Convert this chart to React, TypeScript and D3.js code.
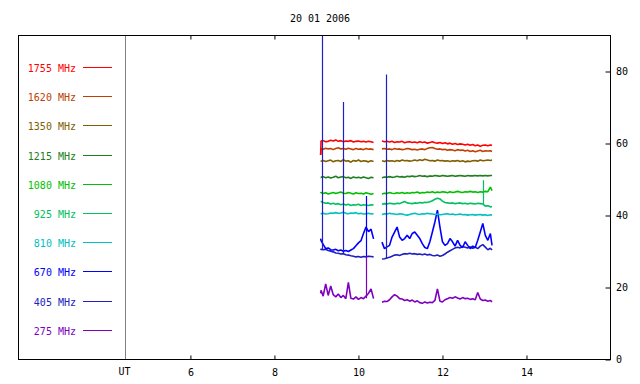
import React, { useEffect, useRef } from "react";
import * as d3 from "d3";

const title = "20 01 2006";
const freqLabels = ["1755 MHz", "1620 MHz", "1350 MHz", "1215 MHz", "1080 MHz", "925 MHz", "810 MHz", "670 MHz", "405 MHz", "275 MHz"];
const freqColors = ["#ff0000", "#c04000", "#806000", "#208020", "#00c000", "#00c060", "#00c0c0", "#0000ff", "#2020c0", "#8000c0"];
const hourTicks = [6, 8, 10, 12, 14];
const fluxTicks = [0, 20, 40, 60, 80];

// UT hours of the samples (gap between 10.36 and 10.56)
const hours = [
  9.10, 9.11, 9.16, 9.22, 9.28, 9.34, 9.40, 9.46, 9.52, 9.58, 9.64, 9.70, 9.76, 9.82, 9.88, 9.94, 10.00, 10.06, 10.12, 10.18, 10.24, 10.30, 10.36,
  10.56, 10.62, 10.68, 10.74, 10.80, 10.86, 10.92, 10.98, 11.04, 11.10, 11.16, 11.22, 11.28, 11.34, 11.40, 11.46, 11.52, 11.58, 11.64, 11.70,
  11.76, 11.82, 11.88, 11.94, 12.00, 12.06, 12.12, 12.18, 12.24, 12.30, 12.36, 12.42, 12.48, 12.54, 12.60, 12.66, 12.72, 12.78, 12.84, 12.90,
  12.96, 13.02, 13.08, 13.14, 13.18,
];

const f1755 = [
  56.8, 60.7, 60.8, 60.5, 60.6, 60.9, 60.7, 61.0, 60.6, 60.8, 60.5, 60.7, 60.6, 60.8, 60.4, 60.6, 60.7, 60.5, 60.6, 60.4, 60.6, 60.5, 60.3,
  60.7, 60.5, 60.6, 60.4, 60.6, 60.3, 60.5, 60.4, 60.6, 60.2, 60.4, 60.5, 60.3, 60.4, 60.2, 60.5, 60.3, 60.4, 60.1, 60.3,
  60.5, 60.2, 60.1, 60.3, 60.0, 60.2, 59.9, 60.1, 59.8, 60.0, 59.7, 59.9, 59.8, 59.6, 59.8, 59.5, 59.7, 59.4, 59.6, 59.2,
  59.5, 59.6, 59.4, 59.6, 59.5,
];
const f1620 = [
  56.8, 58.6, 58.4, 58.7, 58.5, 58.6, 58.3, 58.6, 58.8, 58.5, 58.6, 58.4, 58.7, 58.5, 58.3, 58.6, 58.4, 58.5, 58.3, 58.6, 58.4, 58.5, 58.3,
  58.5, 58.6, 58.4, 58.5, 58.3, 58.6, 58.4, 58.5, 58.3, 58.4, 58.6, 58.5, 58.3, 58.4, 58.2, 58.4, 58.5, 58.3, 58.6, 58.8,
  58.9, 58.6, 58.4, 58.5, 58.3, 58.4, 58.1, 58.3, 58.2, 58.0, 58.3, 58.1, 58.2, 57.9, 58.1, 57.8, 58.0, 57.7, 57.9, 58.1,
  57.8, 58.0, 57.9, 58.0, 57.8,
];
const f1350 = [
  55.1, 55.1, 55.3, 55.0, 55.2, 55.4, 54.9, 55.2, 55.3, 55.0, 55.5, 55.1, 55.2, 54.8, 55.3, 55.1, 55.4, 55.0, 55.2, 55.1, 54.9, 55.2, 55.0,
  55.2, 55.0, 55.3, 55.1, 55.2, 55.0, 55.3, 55.1, 55.4, 55.2, 55.3, 55.1, 55.2, 55.4, 55.2, 55.5, 55.3, 55.6, 55.4, 55.2,
  55.3, 55.1, 55.4, 55.2, 55.3, 55.1, 55.2, 55.0, 55.2, 55.1, 55.3, 55.0, 55.2, 54.9, 55.1, 55.0, 55.2, 55.3, 55.1, 55.4,
  55.2, 55.3, 55.4, 55.3, 55.4,
];
const f1215 = [
  50.6, 50.6, 50.8, 50.5, 50.7, 50.4, 50.6, 50.9, 50.5, 50.7, 50.8, 50.5, 50.6, 50.3, 50.7, 50.5, 50.6, 50.4, 50.7, 50.5, 50.3, 50.6, 50.5,
  50.5, 50.7, 50.6, 50.8, 50.6, 50.7, 50.9, 50.7, 50.8, 50.6, 50.9, 50.8, 51.0, 50.8, 50.9, 51.1, 50.9, 51.0, 50.8, 51.0,
  50.9, 51.1, 51.0, 50.9, 51.1, 51.0, 50.9, 51.0, 51.1, 50.9, 51.0, 51.1, 51.0, 50.9, 51.1, 51.0, 51.0, 51.1, 51.0, 51.1,
  51.0, 51.1, 51.0, 51.1, 51.1,
];
const f1080 = [
  46.2, 46.4, 46.1, 46.3, 46.0, 46.2, 46.4, 46.1, 46.3, 46.5, 46.2, 46.1, 46.4, 46.2, 46.0, 46.3, 46.1, 46.2, 46.0, 46.3, 46.1, 45.9, 46.1,
  46.0, 46.2, 46.1, 46.4, 46.2, 46.1, 46.3, 46.2, 46.4, 46.1, 46.3, 46.2, 46.4, 46.3, 46.5, 46.2, 46.4, 46.3, 46.5, 46.4,
  46.6, 46.3, 46.5, 46.4, 46.6, 46.5, 46.3, 46.6, 46.4, 46.5, 46.7, 46.5, 46.4, 46.6, 46.5, 46.7, 46.5, 46.6, 46.4, 46.6,
  46.5, 46.7, 46.6, 47.9, 46.9,
];
const f925 = [
  43.9, 43.9, 43.6, 43.4, 43.5, 43.2, 43.4, 43.1, 43.3, 43.0, 43.2, 42.9, 43.1, 42.8, 43.0, 42.9, 43.1, 42.8, 43.0, 42.9, 42.8, 43.0, 42.9,
  43.1, 43.3, 43.2, 43.4, 43.3, 43.2, 43.4, 43.3, 43.6, 43.9, 43.5, 43.4, 43.3, 43.5, 43.4, 43.6, 43.5, 43.7, 43.6, 43.8,
  44.1, 44.5, 44.8, 44.6, 44.0, 43.6, 43.5, 43.4, 43.5, 43.3, 43.4, 43.5, 43.3, 43.4, 43.2, 43.4, 43.3, 43.2, 43.4, 43.3,
  43.2, 42.6, 42.7, 42.4, 42.5,
];
const f810 = [
  40.5, 40.5, 40.6, 40.4, 40.5, 40.7, 40.6, 40.8, 40.6, 40.7, 40.9, 40.6, 40.5, 40.7, 40.6, 40.8, 40.5, 40.6, 40.4, 40.5, 40.6, 40.4, 40.5,
  40.3, 40.5, 40.4, 40.6, 40.5, 40.4, 40.3, 40.5, 40.4, 40.2, 40.1, 40.3, 40.5, 40.6, 40.4, 40.3, 40.5, 40.4, 40.6, 40.5,
  40.4, 40.3, 40.4, 40.2, 40.3, 40.4, 40.5, 40.3, 40.4, 40.2, 40.3, 40.4, 40.2, 40.3, 40.1, 40.2, 40.3, 40.1, 40.2, 40.3,
  40.1, 40.2, 40.0, 40.2, 40.1,
];
const f670 = [
  33.6, 33.0, 32.0, 30.8, 31.0, 30.5, 30.4, 30.6, 30.2, 30.4, 30.1, 30.3, 30.0, 30.4, 30.8, 31.6, 32.4, 33.0, 35.0, 36.8, 35.5, 36.2, 33.5,
  32.6, 30.8, 31.3, 31.7, 34.0, 35.4, 36.8, 34.0, 33.1, 33.6, 34.5, 33.6, 35.0, 35.4, 34.5, 33.6, 32.2, 31.1, 30.8, 32.7,
  35.4, 38.2, 41.5, 36.8, 32.7, 31.7, 32.2, 33.6, 32.7, 31.5, 33.1, 31.7, 31.1, 32.7, 31.7, 30.8, 31.5, 31.1, 33.1, 35.4,
  37.8, 34.5, 33.1, 35.0, 31.7,
];
const f405 = [
  30.8, 30.6, 30.5, 30.6, 30.3, 30.1, 29.9, 29.6, 29.5, 29.3, 29.4, 29.1, 29.0, 28.8, 28.7, 28.5, 28.6, 28.4, 28.6, 28.5, 28.7, 28.6, 28.5,
  27.9, 28.0, 28.2, 28.4, 28.7, 29.0, 29.1, 28.9, 29.2, 29.4, 29.3, 29.5, 29.3, 29.4, 29.2, 29.3, 29.1, 29.3, 29.0, 29.2,
  28.9, 28.8, 29.0, 28.7, 28.9, 29.3, 29.8, 30.2, 30.6, 31.0, 31.2, 31.0, 31.4, 31.2, 31.0, 31.3, 30.9, 31.2, 30.8, 31.5,
  31.9, 31.2, 30.5, 30.9, 30.4,
];
const f275 = [
  18.4, 19.2, 17.6, 21.0, 17.8, 20.4, 18.0, 17.4, 18.2, 17.2, 17.8, 16.9, 21.4, 17.0, 16.8, 17.4, 16.7, 17.2, 16.9, 17.6, 18.4, 19.6, 16.9,
  15.9, 16.2, 16.1, 16.6, 17.4, 18.0, 17.6, 16.9, 16.8, 16.4, 16.6, 16.2, 16.5, 16.0, 16.3, 15.8, 15.6, 16.0, 15.7, 15.9,
  15.8, 16.4, 19.6, 16.2, 16.0, 16.6, 16.9, 17.2, 17.0, 17.4, 17.1, 16.8, 17.2, 16.9, 17.0, 16.7, 16.9, 16.6, 18.6, 16.8,
  16.4, 16.5, 16.2, 16.4, 16.0,
];
const seriesValues = [f1755, f1620, f1350, f1215, f1080, f925, f810, f670, f405, f275];

// short interference spikes: hour, series index, level before, peak
const spikeHours = [9.14, 9.64, 10.66, 10.17, 10.17, 12.97];
const spikeSeries = [8, 8, 8, 7, 9, 5];
const spikeBase = [30.6, 29.4, 28.2, 28.6, 17.0, 43.2];
const spikePeak = [90, 71.5, 79.2, 45.4, 28.6, 49.8];

const FONT = "'DejaVu Sans Mono', monospace";

export default function App() {
  const ref = useRef<SVGSVGElement>(null);

  useEffect(() => {
    const svg = d3.select(ref.current);
    svg.selectAll("*").remove();

    const left = 18.5, right = 610.5, top = 35.5, bottom = 359.5;
    const x = d3.scaleLinear().domain([4.45, 16]).range([125.3, right]);
    const y = d3.scaleLinear().domain([0, 90]).range([bottom, top]);

    svg.append("text")
      .attr("x", 320).attr("y", 22)
      .attr("text-anchor", "middle")
      .style("font", `10px ${FONT}`)
      .text(title);

    svg.append("defs").append("clipPath").attr("id", "plotclip")
      .append("rect").attr("x", left).attr("y", top).attr("width", right - left).attr("height", bottom - top);

    // UT separator
    svg.append("line")
      .attr("x1", 125.5).attr("x2", 125.5).attr("y1", top).attr("y2", bottom)
      .attr("stroke", "#808080");

    // legend
    const ly = d3.scaleLinear().domain([0, 9]).range([67.5, 330.3]);
    const items = freqLabels.map((label, i) => ({ label, color: freqColors[i], y: Math.floor(ly(i)) + 0.5 }));
    const legend = svg.append("g").selectAll("g").data(items).join("g")
      .attr("transform", d => `translate(0,${d.y})`);
    legend.append("text")
      .attr("x", 76).attr("y", 4)
      .attr("text-anchor", "end")
      .attr("fill", d => d.color)
      .style("font", `10px ${FONT}`)
      .text(d => d.label);
    legend.append("line")
      .attr("x1", 83).attr("x2", 112).attr("y1", 0).attr("y2", 0)
      .style("stroke", d => d.color);

    // traces, split at the gap
    const plot = svg.append("g").attr("clip-path", "url(#plotclip)");
    const line = d3.line<[number, number]>().x(d => x(d[0])).y(d => y(d[1]));
    const order = d3.range(seriesValues.length).reverse();
    order.forEach(si => {
      const vals = seriesValues[si];
      const segs: [number, number][][] = [[]];
      hours.forEach((h, i) => {
        if (i > 0 && h - hours[i - 1] > 0.1) segs.push([]);
        segs[segs.length - 1].push([h, vals[i]]);
      });
      segs.forEach(s => {
        plot.append("path")
          .attr("d", line(s))
          .attr("fill", "none")
          .attr("stroke", freqColors[si])
          .attr("stroke-width", 1.6)
          .attr("stroke-linejoin", "bevel");
      });
    });

    const spikes = spikeHours.map((h, i) => ({ h, color: freqColors[spikeSeries[i]], base: spikeBase[i], peak: spikePeak[i] }));
    plot.selectAll("line.spike").data(spikes).join("line")
      .attr("class", "spike")
      .attr("x1", d => Math.round(x(d.h)) + 0.5).attr("x2", d => Math.round(x(d.h)) + 0.5)
      .attr("y1", d => y(d.base)).attr("y2", d => y(d.peak))
      .style("stroke", d => d.color)
      .attr("stroke-width", 1.2);

    // frame
    svg.append("rect")
      .attr("x", left).attr("y", top).attr("width", right - left).attr("height", bottom - top)
      .attr("fill", "none").attr("stroke", "#000");

    const bx = svg.append("g").attr("transform", `translate(0,${bottom})`)
      .call(d3.axisBottom(x).tickValues(hourTicks).tickSize(-4).tickPadding(9).tickFormat(d3.format("d")));
    const tx = svg.append("g").attr("transform", `translate(0,${top})`)
      .call(d3.axisTop(x).tickValues(hourTicks).tickSize(-4).tickFormat(() => ""));
    const ry = svg.append("g").attr("transform", `translate(${right},0)`)
      .call(d3.axisRight(y).tickValues(fluxTicks).tickSize(-5).tickPadding(5.5).tickFormat(d3.format("d")));
    [bx, tx, ry].forEach(g => {
      g.select(".domain").remove();
      g.attr("font-family", null).attr("font-size", null);
      g.selectAll("text").style("font", `10px ${FONT}`).attr("fill", "#000");
    });

    svg.append("text")
      .attr("x", 124.5).attr("y", 374.5)
      .attr("text-anchor", "middle")
      .style("font", `10px ${FONT}`)
      .text("UT");
  }, []);

  return (
    <svg ref={ref} width={640} height={384}
      style={{ position: "absolute", left: 0, top: 0, background: "#fff" }} />
  );
}
